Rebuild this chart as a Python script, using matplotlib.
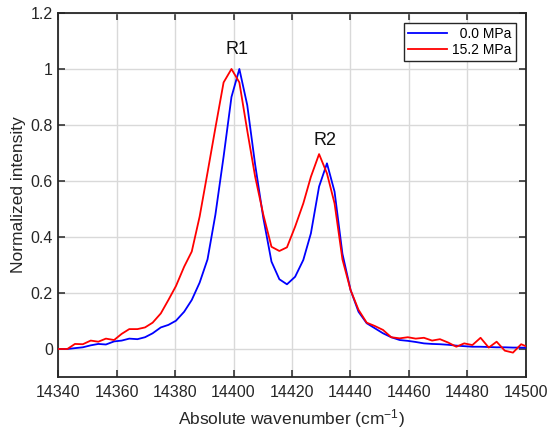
import matplotlib
matplotlib.use("Agg")
import matplotlib.pyplot as plt

plt.rcParams['font.family'] = ['Liberation Sans', 'DejaVu Sans']
plt.rcParams['mathtext.fontset'] = 'custom'
plt.rcParams['mathtext.rm'] = 'Liberation Sans'
plt.rcParams['mathtext.it'] = 'Liberation Sans:italic'

wavenumber = [14337.8, 14340.4, 14343.1, 14345.7, 14348.4, 14351.1, 14353.7, 14356.3,
              14359.1, 14361.7, 14364.3, 14367.1, 14369.7, 14372.3, 14375.1, 14377.7,
              14380.3, 14383.1, 14385.7, 14388.4, 14391.1, 14393.8, 14396.6, 14399.3,
              14402.0, 14404.7, 14407.4, 14410.2, 14413.0, 14415.7, 14418.3, 14421.1,
              14423.9, 14426.5, 14429.3, 14432.0, 14434.6, 14437.3, 14440.1, 14442.8,
              14445.6, 14448.4, 14451.2, 14454.0, 14456.9, 14459.7, 14462.4, 14465.2,
              14468.0, 14470.7, 14473.5, 14476.3, 14479.0, 14481.8, 14484.6, 14487.4,
              14490.1, 14492.9, 14495.7, 14498.5, 14501.2]

intensity_0MPa = [0, 0, 0, 0.003, 0.006, 0.013, 0.018, 0.016,
                  0.027, 0.030, 0.037, 0.035, 0.042, 0.056, 0.077, 0.086,
                  0.101, 0.133, 0.175, 0.237, 0.32, 0.48, 0.687, 0.90,
                  1.0, 0.871, 0.659, 0.468, 0.312, 0.249, 0.231, 0.258,
                  0.318, 0.413, 0.58, 0.663, 0.562, 0.34, 0.21, 0.133,
                  0.092, 0.074, 0.056, 0.042, 0.032, 0.029, 0.025, 0.020,
                  0.018, 0.017, 0.015, 0.012, 0.010, 0.008, 0.008, 0.007,
                  0.006, 0.006, 0.005, 0.005, 0.004]

intensity_15MPa = [0, 0, 0, 0.018, 0.017, 0.030, 0.026, 0.037,
                   0.032, 0.054, 0.071, 0.071, 0.077, 0.094, 0.127, 0.175,
                   0.225, 0.294, 0.348, 0.473, 0.63, 0.79, 0.952, 1.0,
                   0.952, 0.78, 0.616, 0.48, 0.365, 0.35, 0.363, 0.437,
                   0.52, 0.615, 0.696, 0.627, 0.52, 0.32, 0.21, 0.14,
                   0.094, 0.082, 0.068, 0.042, 0.038, 0.042, 0.037, 0.040,
                   0.030, 0.035, 0.023, 0.008, 0.020, 0.014, 0.040, 0.005,
                   0.026, -0.006, -0.013, 0.017, 0.005]

series_labels = ["  0.0 MPa", "15.2 MPa"]
x_ticks = [14340, 14360, 14380, 14400, 14420, 14440, 14460, 14480, 14500]
y_ticks = [0, 0.2, 0.4, 0.6, 0.8, 1.0, 1.2]
y_ticklabels = ["0", "0.2", "0.4", "0.6", "0.8", "1", "1.2"]
peak_labels = ["R1", "R2"]
peak_pos = [(14401.2, 1.068), (14431.3, 0.743)]

fig = plt.figure(figsize=(5.48, 4.30), dpi=100)
ax = fig.add_axes([0.1064, 0.1233, 0.8526, 0.8465])

ax.plot(wavenumber, intensity_0MPa, color=(0, 0, 1), lw=1.3, label=series_labels[0], zorder=3)
ax.plot(wavenumber, intensity_15MPa, color=(1, 0, 0), lw=1.3, label=series_labels[1], zorder=3)

for lab, (px, py) in zip(peak_labels, peak_pos):
    ax.text(px, py, lab, ha='center', va='center', fontsize=13, color='#111111')

ax.set_xlim(14340, 14500)
ax.set_ylim(-0.1, 1.2)
ax.set_xticks(x_ticks)
ax.set_xticklabels([str(t) for t in x_ticks])
ax.set_yticks(y_ticks)
ax.set_yticklabels(y_ticklabels)

ax.grid(True, color='#d9d9d9', lw=1.0)
ax.set_axisbelow(True)
for s in ax.spines.values():
    s.set_color('#262626')
    s.set_linewidth(1.3)
ax.tick_params(direction='in', top=True, right=True, length=5, width=1.1,
               color='#262626', labelsize=11.5, labelcolor='#262626')
ax.tick_params(axis='x', pad=6)
ax.tick_params(axis='y', pad=4)

ax.set_xlabel("Absolute wavenumber (cm$^{-1}$)", fontsize=12.5, color='#262626', labelpad=5)
ax.set_ylabel("Normalized intensity", fontsize=12.5, color='#262626', labelpad=3)

leg = ax.legend(loc='upper right', fontsize=10, frameon=True, fancybox=False,
                edgecolor='#262626', borderaxespad=0.7, handlelength=2.8,
                handletextpad=0.4, borderpad=0.3, labelspacing=0.15)
leg.get_frame().set_linewidth(1.0)
leg.get_frame().set_alpha(1)

fig.savefig("out.png", dpi=100)
